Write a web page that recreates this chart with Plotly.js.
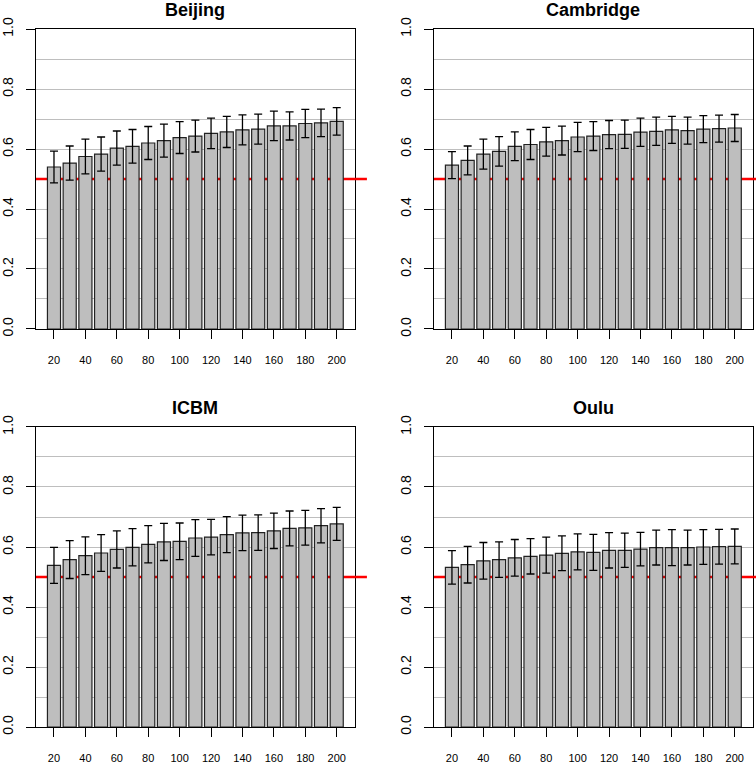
<!DOCTYPE html>
<html>
<head>
<meta charset="utf-8">
<script src="https://cdn.plot.ly/plotly-3.0.1.min.js"></script>
<style>
  html, body { margin: 0; padding: 0; background: #fff; }
  #viz { width: 756px; height: 764px; }
</style>
</head>
<body>
<div id="viz"></div>
<script>
// number of items on the x axis (one bar each)
var sizes = [20, 30, 40, 50, 60, 70, 80, 90, 100, 110, 120, 130, 140, 150, 160, 170, 180, 190, 200];

// mean accuracy per site
var beijing   = [0.540, 0.553, 0.575, 0.583, 0.603, 0.609, 0.620, 0.628, 0.638, 0.643, 0.652, 0.657, 0.664, 0.666, 0.677, 0.677, 0.685, 0.687, 0.692];
var cambridge = [0.546, 0.562, 0.583, 0.592, 0.609, 0.615, 0.624, 0.628, 0.640, 0.643, 0.648, 0.649, 0.656, 0.659, 0.664, 0.661, 0.666, 0.668, 0.670];
var icbm      = [0.539, 0.558, 0.571, 0.580, 0.592, 0.599, 0.609, 0.617, 0.619, 0.630, 0.633, 0.641, 0.647, 0.648, 0.654, 0.662, 0.664, 0.671, 0.677];
var oulu      = [0.532, 0.541, 0.554, 0.558, 0.564, 0.569, 0.573, 0.579, 0.584, 0.582, 0.589, 0.589, 0.593, 0.598, 0.598, 0.598, 0.600, 0.601, 0.602];

// half length of the error bars
var beijingErr   = [0.053, 0.057, 0.058, 0.057, 0.057, 0.056, 0.055, 0.055, 0.053, 0.053, 0.051, 0.052, 0.050, 0.050, 0.049, 0.047, 0.047, 0.046, 0.046];
var cambridgeErr = [0.045, 0.048, 0.050, 0.049, 0.048, 0.050, 0.048, 0.048, 0.049, 0.048, 0.047, 0.047, 0.047, 0.047, 0.045, 0.045, 0.045, 0.045, 0.045];
var icbmErr      = [0.060, 0.063, 0.063, 0.061, 0.062, 0.062, 0.062, 0.062, 0.061, 0.061, 0.059, 0.060, 0.059, 0.059, 0.059, 0.058, 0.058, 0.057, 0.055];
var ouluErr      = [0.056, 0.061, 0.061, 0.059, 0.061, 0.059, 0.060, 0.058, 0.060, 0.060, 0.059, 0.057, 0.056, 0.058, 0.060, 0.058, 0.058, 0.058, 0.058];

var siteNames = ['Beijing', 'Cambridge', 'ICBM', 'Oulu'];
var chance = 0.5;
var xRange = [8.3, 211.7];

var panels = [
  {name: siteNames[0], y: beijing,   err: beijingErr,   xd: [0.0471, 0.4697], yd: [0.5694, 0.9620]},
  {name: siteNames[1], y: cambridge, err: cambridgeErr, xd: [0.5735, 0.9962], yd: [0.5694, 0.9620]},
  {name: siteNames[2], y: icbm,      err: icbmErr,      xd: [0.0471, 0.4697], yd: [0.0484, 0.4411]},
  {name: siteNames[3], y: oulu,      err: ouluErr,      xd: [0.5735, 0.9962], yd: [0.0484, 0.4411]}
];

var data = [];
var layout = {
  width: 756,
  height: 764,
  margin: {l: 0, r: 0, t: 0, b: 0},
  paper_bgcolor: '#ffffff',
  plot_bgcolor: '#ffffff',
  showlegend: false,
  bargap: 0.1667,
  shapes: [],
  annotations: []
};

panels.forEach(function (p, i) {
  var n = i === 0 ? '' : String(i + 1);

  data.push({
    type: 'bar',
    x: sizes,
    y: p.y,
    xaxis: 'x' + n,
    yaxis: 'y' + n,
    marker: {color: '#bebebe', line: {color: '#222222', width: 1.2}},
    error_y: {type: 'data', array: p.err, visible: true, color: '#000000', thickness: 1.3, width: 4}
  });

  layout['xaxis' + n] = {
    domain: p.xd,
    anchor: 'y' + n,
    range: xRange,
    tickmode: 'linear', tick0: 20, dtick: 20,
    ticks: 'outside', ticklen: 9, tickcolor: '#000', tickwidth: 1,
    ticklabelstandoff: 12,
    tickfont: {family: 'Liberation Sans, Arial, sans-serif', size: 11, color: '#000'},
    showline: true, linecolor: '#000', linewidth: 1, mirror: true,
    showgrid: false, zeroline: false, fixedrange: true
  };

  layout['yaxis' + n] = {
    domain: p.yd,
    anchor: 'x' + n,
    range: [0, 1],
    tickmode: 'linear', tick0: 0, dtick: 0.2,
    tickformat: '.1f',
    tickangle: -90,
    ticks: 'outside', ticklen: 9, tickcolor: '#000', tickwidth: 1,
    ticklabelstandoff: 7,
    tickfont: {family: 'Liberation Sans, Arial, sans-serif', size: 14, color: '#000'},
    showline: true, linecolor: '#000', linewidth: 1, mirror: true,
    showgrid: true, gridcolor: '#bebebe', gridwidth: 1,
    minor: {dtick: 0.1, showgrid: true, gridcolor: '#bebebe', gridwidth: 1, ticks: ''},
    zeroline: false, fixedrange: true
  };

  // red reference line at chance level, above the grid but behind the bars
  layout.shapes.push({
    type: 'line', layer: 'between',
    xref: 'x' + n, x0: xRange[0], x1: xRange[1],
    yref: 'y' + n, y0: chance, y1: chance,
    line: {color: '#ff0000', width: 2.5}
  });
  // it runs a little past the right edge of the box
  layout.shapes.push({
    type: 'line', layer: 'above',
    xref: 'x' + n + ' domain', x0: 1, x1: 1.037,
    yref: 'y' + n, y0: chance, y1: chance,
    line: {color: '#ff0000', width: 2.5}
  });

  layout.annotations.push({
    text: '<b>' + p.name + '</b>',
    xref: 'paper', yref: 'paper',
    x: (p.xd[0] + p.xd[1]) / 2,
    y: p.yd[1] + 19 / 764,
    xanchor: 'center', yanchor: 'middle',
    showarrow: false,
    font: {family: 'Liberation Sans, Arial, sans-serif', size: 18, color: '#000'}
  });
});

Plotly.newPlot('viz', data, layout, {staticPlot: true});
</script>
</body>
</html>
